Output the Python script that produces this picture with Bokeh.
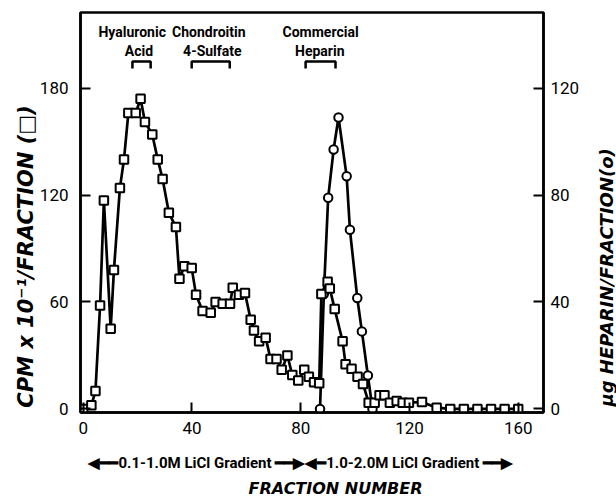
import math
from bokeh.plotting import figure
from bokeh.models import (Range1d, LinearAxis, FixedTicker, Label,
                          ColumnDataSource)
from bokeh.core.properties import value
from bokeh.embed import file_html
from bokeh.resources import INLINE

# ---------------- data ----------------
# CPM x 10^-1 / fraction (squares)
cpm_fraction = [0, 3, 4.5, 6.2, 7.6, 10.1, 11.3, 13.5, 15, 16.6, 19.3, 21.1,
                22.7, 25.4, 27.4, 29.2, 31.5, 34.1, 35.4, 37.2, 39.9, 41.5,
                43.9, 46.9, 48.7, 51.3, 54, 55, 57.3, 59.5, 61.6, 62.8, 64.7,
                67.1, 68.9, 71.1, 73, 75.1, 76.9, 79.1, 81.3, 83, 84.9, 86.8,
                87.6, 89.9, 90.7, 92.5, 95.4, 96.5, 98.7, 100.9, 102.9, 105,
                107.2, 109, 110.8, 112.8, 115.3, 117.5, 119.8, 124.6, 130,
                135, 140, 145, 150, 155, 160]
cpm_values = [0, 2, 10, 58, 117, 45, 78, 124, 140, 166, 166, 174,
              161, 154, 140, 129, 110, 102, 73, 80, 79, 64,
              55, 54, 60, 59, 59, 68, 64, 65, 50, 44, 38,
              40, 28, 28, 22, 30, 19, 16, 22, 18, 15, 14.4,
              64.5, 71.4, 67.5, 56, 38, 25, 22.5, 18, 14, 3.5,
              3.5, 7.7, 7.7, 3.5, 4.5, 3.5, 3.5, 3.9, 0.7,
              0, 0, 0, 0, 0, 0]

# ug heparin / fraction (circles)
hep_fraction = [87.1, 88.5, 90.1, 92.1, 93.9, 96.9, 98.1, 100.8, 102.5, 104.7, 106.4]
hep_values = [0, 43, 79, 97, 109, 87, 67, 41.5, 29, 12.5, 0]

x_ticks = [0, 40, 80, 120, 160]
cpm_ticks = [0, 60, 120, 180]
hep_ticks = [0, 40, 80, 120]

# standards: elution windows (fractions) and their names
standard_spans = [(18.1, 24.8), (39.9, 53.9), (81.8, 92.8)]
standard_line1 = ["Hyaluronic", "Chondroitin", "Commercial"]
standard_line1_x = [18.0, 46.2, 87.3]
standard_line2 = ["Acid", "4-Sulfate", "Heparin"]
standard_line2_x = [20.5, 47.5, 87.0]

gradient_labels = ["0.1-1.0M LiCl Gradient", "1.0-2.0M LiCl Gradient"]

# ---------------- figure ----------------
FONT = "Roboto"
p = figure(width=616, height=502, output_backend="svg", toolbar_location=None,
           x_range=Range1d(-1, 169.3), y_range=Range1d(-2, 222.4),
           min_border_left=80, min_border_right=73, min_border_top=12,
           min_border_bottom=90)
p.extra_y_ranges = {"hep": Range1d(-2 * 2 / 3, 222.4 * 2 / 3)}
p.xgrid.visible = False
p.ygrid.visible = False
p.outline_line_color = "black"
p.outline_line_width = 2.5
p.outline_line_alpha = 1.0
p.background_fill_color = "white"
p.border_fill_color = "white"

def style_axis(ax, standoff):
    ax.axis_line_width = 2.5
    ax.axis_line_color = "black"
    ax.major_tick_in = 10
    ax.major_tick_out = 0
    ax.major_tick_line_width = 2
    ax.major_tick_line_color = "black"
    ax.minor_tick_in = 0
    ax.minor_tick_out = 0
    ax.major_label_text_font = FONT
    ax.major_label_text_font_size = "17px"
    ax.major_label_text_color = "black"
    ax.major_label_standoff = standoff

p.xaxis.ticker = FixedTicker(ticks=x_ticks)
style_axis(p.xaxis[0], 9)
p.yaxis.ticker = FixedTicker(ticks=cpm_ticks)
style_axis(p.yaxis[0], 12)

raxis = LinearAxis(y_range_name="hep", ticker=FixedTicker(ticks=hep_ticks))
style_axis(raxis, 7)
p.add_layout(raxis, "right")

# ---------------- series ----------------
p.line(cpm_fraction, cpm_values, line_color="black", line_width=2.7)
p.line(hep_fraction, hep_values, line_color="black", line_width=2.7,
       y_range_name="hep")
p.scatter(hep_fraction, hep_values, marker="circle", size=8.5,
          fill_color="white", line_color="black", line_width=2,
          y_range_name="hep")
p.scatter(cpm_fraction, cpm_values, marker="square", size=8.5,
          fill_color="white", line_color="black", line_width=2)

# ---------------- standards brackets and labels ----------------
br_top, br_bot = 194.9, 191.0
p.multi_line(xs=[[s, s, e, e] for s, e in standard_spans],
             ys=[[br_bot, br_top, br_top, br_bot] for _ in standard_spans],
             line_color="black", line_width=2.5)

src1 = ColumnDataSource(dict(x=standard_line1_x, y=[211.3] * 3, t=standard_line1))
src2 = ColumnDataSource(dict(x=standard_line2_x, y=[201.0] * 3, t=standard_line2))
for src in (src1, src2):
    p.text(x="x", y="y", text="t", source=src, text_font=value(FONT),
           text_font_style="bold", text_font_size="14px", text_align="center",
           text_baseline="middle", text_color="black")

# ---------------- gradient annotation (panel below the frame) ----------------
LA, RA, SH = "\u25c0", "\u25b6", "\u2501"
gradient_row = (LA + SH + SH + gradient_labels[0] + " " + SH + SH + RA +
                LA + SH + gradient_labels[1] + " " + SH + SH + RA)
p.add_layout(Label(x=80.0, y=-30.5, text=gradient_row, text_align="center",
                   text_baseline="middle", text_font=FONT,
                   text_font_style="bold", text_font_size="15px",
                   text_color="black"), "below")

# ---------------- axis titles ----------------
p.add_layout(Label(x=92.8, y=-44.6, text="FRACTION NUMBER", text_align="center",
                   text_baseline="middle", text_font="DejaVu Sans",
                   text_font_style="bold italic", text_font_size="16px",
                   text_color="black"), "below")
p.add_layout(Label(x=-21.1, y=85.5, text="CPM x 10\u207b\u00b9/FRACTION (\u25a1)",
                   angle=math.pi / 2, text_align="center", text_baseline="middle",
                   text_font="DejaVu Sans", text_font_style="bold italic",
                   text_font_size="21px", text_color="black"), "left")
p.add_layout(Label(x=192.5, y=73.8, text="\u00b5g HEPARIN/FRACTION(o)",
                   angle=math.pi / 2, text_align="center", text_baseline="middle",
                   text_font="DejaVu Sans", text_font_style="bold italic",
                   text_font_size="18px", text_color="black"), "right")

open("out.html", "w").write(file_html(p, INLINE))
